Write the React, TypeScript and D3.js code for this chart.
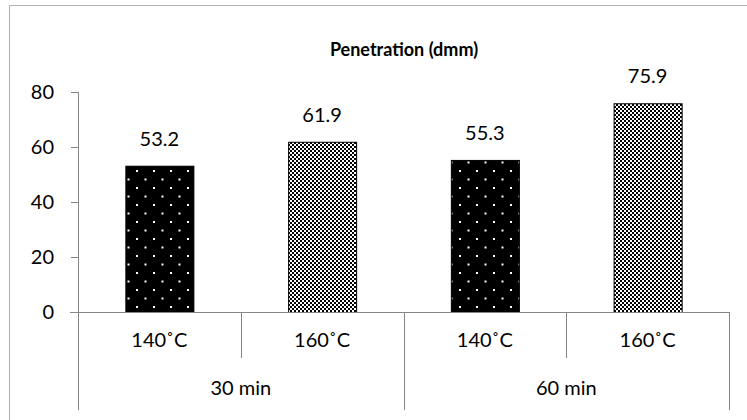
import * as d3 from "d3";
import React from "react";

const temps = ["140˚C", "160˚C", "140˚C", "160˚C"];
const times = ["30 min", "60 min"];
const penetration = [53.2, 61.9, 55.3, 75.9];
const yTicks = [0, 20, 40, 60, 80];

const W = 747;
const H = 420;
const FONT = "Lato, 'Open Sans', sans-serif";

const App: React.FC = () => {
  const keys = penetration.map((_, i) => String(i));
  const x = d3.scaleBand<string>().domain(keys).range([78, 729]).paddingInner(0.582).paddingOuter(0.291);
  const y = d3.scaleLinear().domain([0, 80]).range([312, 92]);
  const step = x.step();
  const groupX = d3.scaleBand<string>().domain(times).range([78, 729]);

  return (
    <svg width={W} height={H} style={{ position: "absolute", left: 0, top: 0 }} fontFamily={FONT}>
      <defs>
        <pattern id="dots" width={17} height={17} patternUnits="userSpaceOnUse">
          <rect width={17} height={17} fill="#000" />
          <rect x={0} y={0} width={2} height={2} fill="#fff" />
          <rect x={8.5} y={8.5} width={2} height={2} fill="#fff" />
        </pattern>
        <pattern id="checker" width={4} height={4} patternUnits="userSpaceOnUse">
          <rect width={4} height={4} fill="#fff" />
          <rect x={0} y={0} width={2} height={2} fill="#000" />
          <rect x={2} y={2} width={2} height={2} fill="#000" />
        </pattern>
      </defs>
      <rect x={9.5} y={5.5} width={900} height={600} fill="#fff" stroke="#b3b3b3" />
      <text x={404} y={56} textAnchor="middle" fontSize={18} fontWeight="bold">
        Penetration (dmm)
      </text>

      {yTicks.map((t) => (
        <g key={t}>
          <line x1={71} x2={78} y1={y(t) + 0.5} y2={y(t) + 0.5} stroke="#868686" />
          <text x={54} y={y(t)} dy="0.36em" textAnchor="end" fontSize={20}>
            {t}
          </text>
        </g>
      ))}
      <line x1={78.5} x2={78.5} y1={92} y2={312} stroke="#868686" />

      {penetration.map((v, i) => (
        <g key={i}>
          <rect
            x={x(String(i))! + 0.5}
            y={y(v) + 0.5}
            width={x.bandwidth()}
            height={y(0) - y(v)}
            fill={i % 2 === 0 ? "url(#dots)" : "url(#checker)"}
            stroke="#000"
          />
          <text x={x(String(i))! + x.bandwidth() / 2} y={y(v) - 20} textAnchor="middle" fontSize={20}>
            {v.toFixed(1)}
          </text>
          <text x={x(String(i))! + x.bandwidth() / 2} y={340} dy="0.36em" textAnchor="middle" fontSize={20}>
            {temps[i]}
          </text>
        </g>
      ))}

      <line x1={70} x2={729} y1={312.5} y2={312.5} stroke="#868686" />
      {d3.range(penetration.length + 1).map((i) => {
        const xx = Math.round(78 + i * step) + 0.5;
        return <line key={i} x1={xx} x2={xx} y1={312} y2={i % 2 === 0 ? 410 : 358} stroke="#868686" />;
      })}
      {times.map((t) => (
        <text key={t} x={groupX(t)! + groupX.bandwidth() / 2} y={388} dy="0.36em" textAnchor="middle" fontSize={20}>
          {t}
        </text>
      ))}
    </svg>
  );
};

export default App;
